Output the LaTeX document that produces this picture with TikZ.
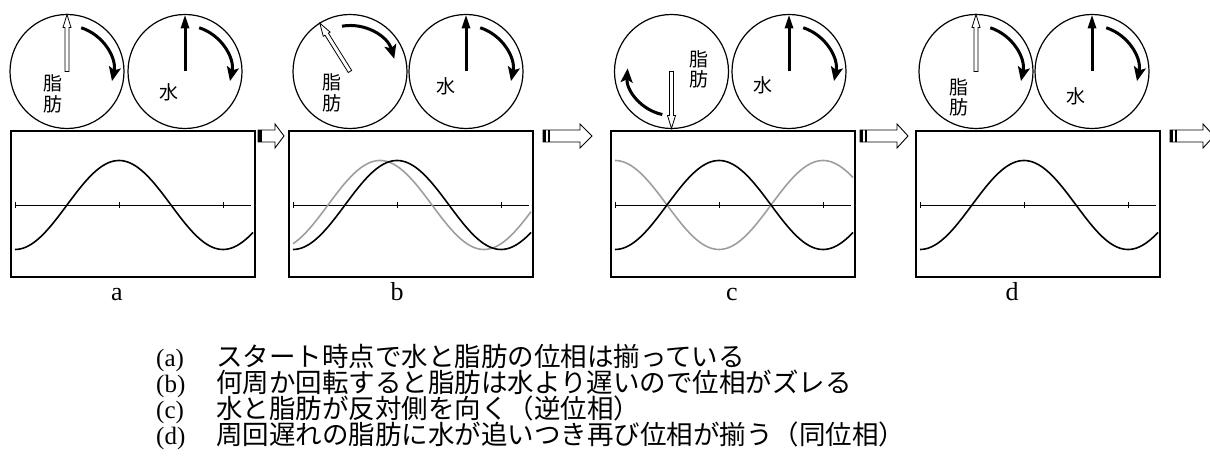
\documentclass[tikz,border=0pt]{standalone}
\usepackage{fontspec}
\setmainfont{Liberation Serif}
\newfontfamily\jp{Noto Sans CJK JP}
\usetikzlibrary{arrows.meta}
\definecolor{fatwave}{gray}{0.62}
\tikzset{
  frame/.style={line width=1.8pt},
  dial/.style={line width=1.2pt},
  axisline/.style={line width=0.9pt},
  wave/.style={line width=1.6pt,domain=4:242,samples=90},
  spin/.style={line width=3pt,-{Stealth[length=14pt,width=12pt,inset=3pt]}},
  waterhand/.style={line width=3pt,-{Triangle[length=14pt,width=8pt]}},
  fathand/.style={fill=white,line width=0.8pt},
  blockarrow/.style={fill=white,line width=0.9pt},
  jplabel/.style={font=\jp\fontsize{19}{19}\selectfont,inner sep=0pt},
  letter/.style={font=\fontsize{26}{26}\selectfont,inner sep=0pt,anchor=base},
  tag/.style={font=\fontsize{25}{25}\selectfont,inner sep=0pt,anchor=base west},
  caption/.style={font=\jp\fontsize{26.5}{26.5}\selectfont,inner sep=0pt,anchor=base west}
}
\begin{document}
\begin{tikzpicture}[x=1pt,y=1pt]
\useasboundingbox (0,0) rectangle (1210,457);

% a
\begin{scope}[shift={(11,180)}]
\draw[frame] (0,0) rectangle (244,146);
\draw[axisline] (4,72) -- (240,72);
\draw[axisline] (4,69) -- (4,75) (108,69) -- (108,75) (212,69) -- (212,75);
\draw[wave] plot (\x,{72+44.5*cos((\x-108)/208*360)});
\draw[dial] (56,205.5) circle[radius=57];
\draw[dial] (174,205.5) circle[radius=57];
\draw[fathand] (54,205.5) -- (54,249.5) -- (52,249.5) -- (56,262.5) -- (60,249.5) -- (58,249.5) -- (58,205.5) -- cycle;
\draw[spin] (56,205.5) ++(72:46) arc[start angle=72,end angle=-12,radius=46];
\draw[waterhand] (174,205.5) -- (174,262.5);
\draw[spin] (174,205.5) ++(72:46) arc[start angle=72,end angle=-12,radius=46];
\node[jplabel] (fatA1) at (41.5,194) {脂};
\node[jplabel] (fatA2) at (41.5,173) {肪};
\node[jplabel] (waterA) at (157.5,184.5) {水};
\node[letter] (panelA) at (106,-24) {a};
\end{scope}

% b
\begin{scope}[shift={(289,180)}]
\draw[frame] (0,0) rectangle (244,146);
\draw[axisline] (4,72) -- (240,72);
\draw[axisline] (4,69) -- (4,75) (108,69) -- (108,75) (212,69) -- (212,75);
\draw[wave,fatwave] plot (\x,{72+44.5*cos((\x-91)/208*360)});
\draw[wave] plot (\x,{72+44.5*cos((\x-108)/208*360)});
\draw[dial] (61,205.5) circle[radius=57];
\draw[dial] (177,205.5) circle[radius=57];
\draw[fathand,rotate around={32:(61,205.5)}] (59,205.5) -- (59,249.5) -- (57,249.5) -- (61,262.5) -- (65,249.5) -- (63,249.5) -- (63,205.5) -- cycle;
\draw[spin] (61,205.5) ++(100:46) arc[start angle=100,end angle=16,radius=46];
\draw[waterhand] (177,205.5) -- (177,262.5);
\draw[spin] (177,205.5) ++(72:46) arc[start angle=72,end angle=-12,radius=46];
\node[jplabel] (fatB1) at (43,194.5) {脂};
\node[jplabel] (fatB2) at (43,173.5) {肪};
\node[jplabel] (waterB) at (157,190.5) {水};
\node[letter] (panelB) at (108,-24) {b};
\end{scope}

% c
\begin{scope}[shift={(611,180)}]
\draw[frame] (0,0) rectangle (244,146);
\draw[axisline] (4,72) -- (240,72);
\draw[axisline] (4,69) -- (4,75) (108,69) -- (108,75) (212,69) -- (212,75);
\draw[wave,fatwave] plot (\x,{72-44.5*cos((\x-108)/208*360)});
\draw[wave] plot (\x,{72+44.5*cos((\x-108)/208*360)});
\draw[dial] (60.5,205.5) circle[radius=57];
\draw[dial] (178,205.5) circle[radius=57];
\draw[fathand,rotate around={180:(60.5,205.5)}] (58.5,205.5) -- (58.5,249.5) -- (56.5,249.5) -- (60.5,262.5) -- (64.5,249.5) -- (62.5,249.5) -- (62.5,205.5) -- cycle;
\draw[spin] (60.5,205.5) ++(258:44) arc[start angle=258,end angle=176,radius=44];
\draw[waterhand] (178,205.5) -- (178,262.5);
\draw[spin] (178,205.5) ++(72:46) arc[start angle=72,end angle=-12,radius=46];
\node[jplabel] (fatC1) at (88,218) {脂};
\node[jplabel] (fatC2) at (88,198) {肪};
\node[jplabel] (waterC) at (151.5,192) {水};
\node[letter] (panelC) at (121,-24) {c};
\end{scope}

% d
\begin{scope}[shift={(916,180)}]
\draw[frame] (0,0) rectangle (244,146);
\draw[axisline] (4,72) -- (240,72);
\draw[axisline] (4,69) -- (4,75) (108,69) -- (108,75) (212,69) -- (212,75);
\draw[wave] plot (\x,{72+44.5*cos((\x-108)/208*360)});
\draw[dial] (60,205.5) circle[radius=57];
\draw[dial] (176,205.5) circle[radius=57];
\draw[fathand] (58,205.5) -- (58,249.5) -- (56,249.5) -- (60,262.5) -- (64,249.5) -- (62,249.5) -- (62,205.5) -- cycle;
\draw[spin] (60,205.5) ++(72:46) arc[start angle=72,end angle=-12,radius=46];
\draw[waterhand] (176,205.5) -- (176,262.5);
\draw[spin] (176,205.5) ++(72:46) arc[start angle=72,end angle=-12,radius=46];
\node[jplabel] (fatD1) at (43,189.5) {脂};
\node[jplabel] (fatD2) at (43,169.5) {肪};
\node[jplabel] (waterD) at (160,180.5) {水};
\node[letter] (panelD) at (96,-24) {d};
\end{scope}

% block arrows between the panels
\draw[blockarrow] (258,315) -- (275,315) -- (275,309) -- (284,321) -- (275,333) -- (275,327) -- (258,327) -- cycle;
\fill (258,315) rectangle (262,327);
\draw[blockarrow] (543,315) -- (580,315) -- (580,309) -- (592,321) -- (580,333) -- (580,327) -- (543,327) -- cycle;
\fill (543,315) rectangle (545.5,327);
\draw[line width=1.4pt] (549,315) -- (549,327);
\draw[blockarrow] (860,315) -- (897,315) -- (897,309) -- (908,321) -- (897,333) -- (897,327) -- (860,327) -- cycle;
\fill (860,315) rectangle (862.5,327);
\draw[line width=1.4pt] (866,315) -- (866,327);
\draw[blockarrow] (1170,315) -- (1203,315) -- (1203,309) -- (1214,321) -- (1203,333) -- (1203,327) -- (1170,327) -- cycle;
\fill (1170,315) rectangle (1172.5,327);
\draw[line width=1.4pt] (1176,315) -- (1176,327);

% notes
\node[tag] (tagA) at (156,90) {(a)};
\node[tag] (tagB) at (156,64) {(b)};
\node[tag] (tagC) at (156,38) {(c)};
\node[tag] (tagD) at (156,12) {(d)};
\node[caption] (noteA) at (216,90) {スタート時点で水と脂肪の位相は揃っている};
\node[caption] (noteB) at (216,64) {何周か回転すると脂肪は水より遅いので位相がズレる};
\node[caption] (noteC) at (216,38) {水と脂肪が反対側を向く（逆位相）};
\node[caption] (noteD) at (216,12) {周回遅れの脂肪に水が追いつき再び位相が揃う（同位相）};
\end{tikzpicture}
\end{document}
